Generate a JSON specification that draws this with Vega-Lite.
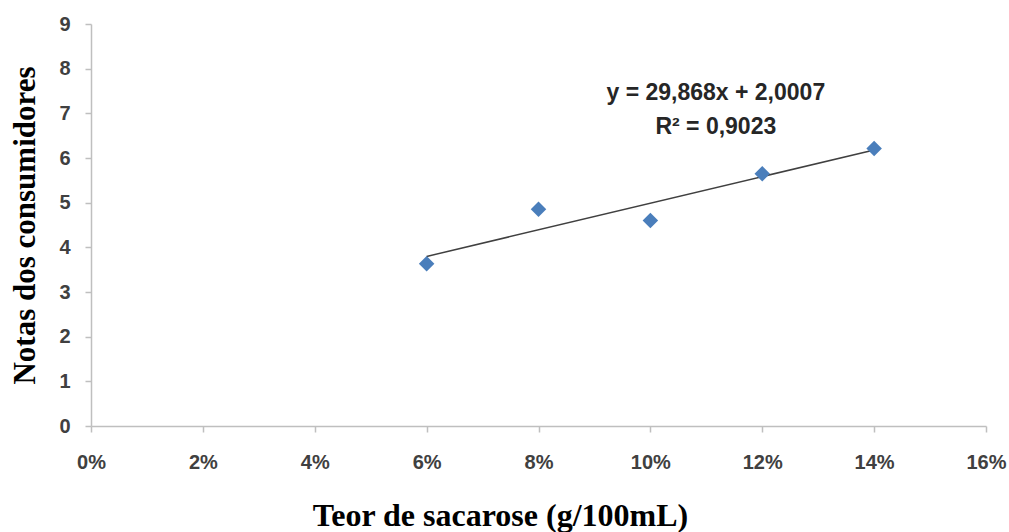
{
  "$schema": "https://vega.github.io/schema/vega-lite/v6.json",
  "width": 895,
  "height": 402,
  "autosize": {"type": "none"},
  "padding": {"left": 91, "top": 24, "right": 23, "bottom": 106},
  "background": "white",
  "config": {"view": {"stroke": null}},
  "datasets": {
    "pts": [
      {"teor": 0.06, "nota": 3.63},
      {"teor": 0.08, "nota": 4.85},
      {"teor": 0.10, "nota": 4.6},
      {"teor": 0.12, "nota": 5.65},
      {"teor": 0.14, "nota": 6.21}
    ],
    "eq": [
      {"teor": 0.1117, "nota": 7.45, "label": "y = 29,868x + 2,0007"},
      {"teor": 0.1117, "nota": 6.7, "label": "R² = 0,9023"}
    ]
  },
  "layer": [
    {
      "data": {"name": "pts"},
      "transform": [{"regression": "nota", "on": "teor", "extent": [0.06, 0.14]}],
      "mark": {"type": "line", "color": "#404040", "strokeWidth": 1.5},
      "encoding": {
        "x": {"field": "teor", "type": "quantitative"},
        "y": {"field": "nota", "type": "quantitative"}
      }
    },
    {
      "data": {"name": "pts"},
      "mark": {"type": "point", "shape": "diamond", "filled": true, "color": "#4a7ebb", "opacity": 1, "size": 240},
      "encoding": {
        "x": {
          "field": "teor", "type": "quantitative",
          "scale": {"domain": [0, 0.16], "nice": false, "zero": true},
          "axis": {
            "title": "Teor de sacarose (g/100mL)",
            "format": ".0%",
            "values": [0, 0.02, 0.04, 0.06, 0.08, 0.1, 0.12, 0.14, 0.16],
            "grid": false,
            "labelFlush": false,
            "domainColor": "#bfbfbf", "domainWidth": 1.5,
            "tickColor": "#bfbfbf", "tickWidth": 1.5, "tickSize": 6,
            "labelFont": "Liberation Sans", "labelFontWeight": "bold", "labelFontSize": 20, "labelColor": "#404040",
            "labelPadding": 20,
            "titleFont": "Liberation Serif", "titleFontWeight": "bold", "titleFontSize": 32, "titleColor": "#000000",
            "titlePadding": 28,
            "titleX": 409
          }
        },
        "y": {
          "field": "nota", "type": "quantitative",
          "scale": {"domain": [0, 9], "nice": false},
          "axis": {
            "title": "Notas dos consumidores",
            "values": [0, 1, 2, 3, 4, 5, 6, 7, 8, 9],
            "grid": false,
            "labelFlush": false,
            "domainColor": "#bfbfbf", "domainWidth": 1.5,
            "tickColor": "#bfbfbf", "tickWidth": 1.5, "tickSize": 6,
            "labelFont": "Liberation Sans", "labelFontWeight": "bold", "labelFontSize": 20, "labelColor": "#404040",
            "labelPadding": 15,
            "titleFont": "Liberation Serif", "titleFontWeight": "bold", "titleFontSize": 31, "titleColor": "#000000",
            "titlePadding": 17
          }
        }
      }
    },
    {
      "data": {"name": "eq"},
      "mark": {"type": "text", "font": "Liberation Sans", "fontWeight": "bold", "fontSize": 23, "color": "#262626", "align": "center", "baseline": "middle"},
      "encoding": {
        "x": {"field": "teor", "type": "quantitative"},
        "y": {"field": "nota", "type": "quantitative"},
        "text": {"field": "label"}
      }
    }
  ]
}
